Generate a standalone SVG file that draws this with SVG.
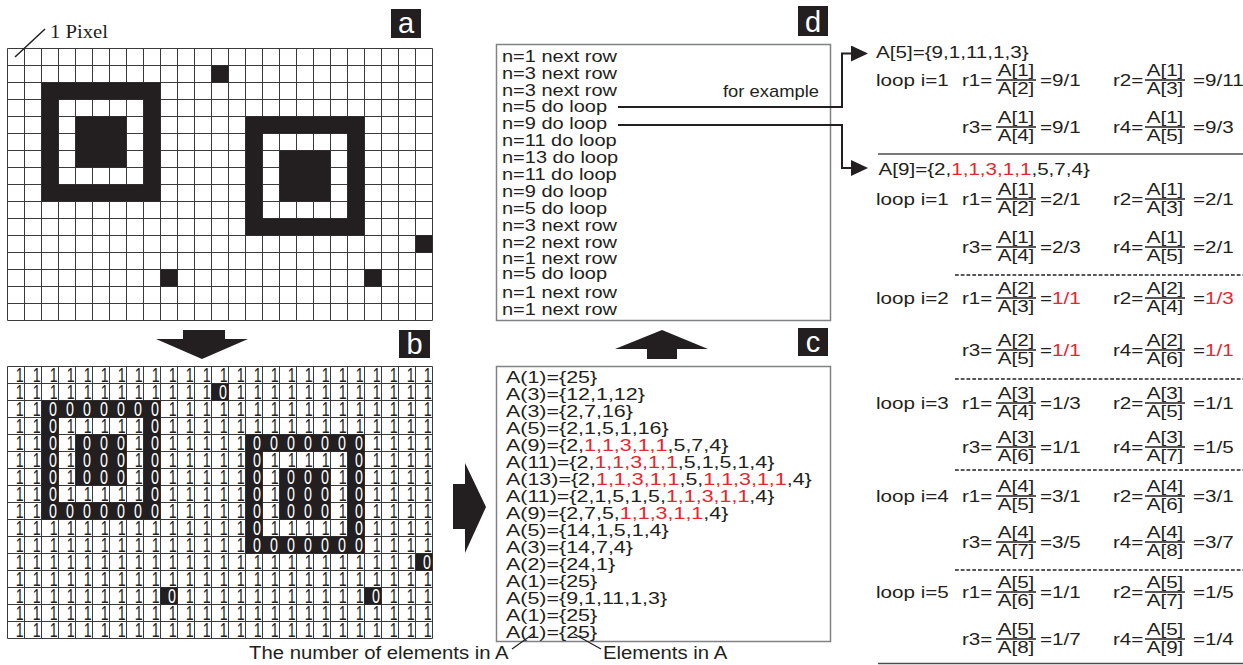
<svg xmlns="http://www.w3.org/2000/svg" width="1243" height="665" viewBox="0 0 1243 665">
<style>
.t{font-family:"Liberation Sans",Arial,sans-serif;fill:#231f20}
.r{fill:#e6262d}
.m{text-anchor:middle}
.grid{fill:none;stroke:#3a3a3a;stroke-width:1}
.blk{fill:#231f20;fill-rule:evenodd}
.box{fill:none;stroke:#808285;stroke-width:1.5}
.lbl rect{fill:#231f20}
.lbl text{font-family:"Liberation Sans",Arial,sans-serif;font-size:29px;fill:#fff;text-anchor:middle}
.one{font-family:"Liberation Sans",Arial,sans-serif;font-size:21px;fill:#231f20;text-anchor:middle}
.zero{font-family:"Liberation Sans",Arial,sans-serif;font-size:21px;fill:#fff;text-anchor:middle}
.con{fill:none;stroke:#231f20;stroke-width:2}
.thin{fill:none;stroke:#231f20;stroke-width:1.2}
.bar{fill:none;stroke:#231f20;stroke-width:1.3}
.dash{fill:none;stroke:#231f20;stroke-width:1.3;stroke-dasharray:3 1.6}
.solid{fill:none;stroke:#4d4d4f;stroke-width:1.5}
.arrow{fill:#231f20}
</style>
<defs>
<path id="gr" class="grid" d="M7.5,48.5v272m17-272v272m17-272v272m17-272v272m17-272v272m17-272v272m17-272v272m17-272v272m17-272v272m17-272v272m17-272v272m17-272v272m17-272v272m17-272v272m17-272v272m17-272v272m17-272v272m17-272v272m17-272v272m17-272v272m17-272v272m17-272v272m17-272v272m17-272v272m17-272v272m17-272v272M7.5,48.5h425m-425,17h425m-425,17h425m-425,17h425m-425,17h425m-425,17h425m-425,17h425m-425,17h425m-425,17h425m-425,17h425m-425,17h425m-425,17h425m-425,17h425m-425,17h425m-425,17h425m-425,17h425m-425,17h425"/>
<path id="px" class="blk" d="M41.5,82.5h119v119h-119z M58.5,99.5h85v85h-85z M75.5,116.5h51v51h-51z M245.5,116.5h119v119h-119z M262.5,133.5h85v85h-85z M279.5,150.5h51v51h-51z M211.5,65.5h17v17h-17z M415.5,235.5h17v17h-17z M160.5,269.5h17v17h-17z M364.5,269.5h17v17h-17z"/>
<marker id="ah" markerUnits="userSpaceOnUse" markerWidth="17" markerHeight="16" viewBox="0 0 17 16" refX="0" refY="8" orient="auto"><path d="M0,0L17,8L0,16z" fill="#231f20"/></marker>
</defs>

<g id="panel-a">
<use href="#gr"/>
<use href="#px"/>
<line x1="15" y1="57" x2="45" y2="29" stroke="#231f20" stroke-width="1.5"/>
<text transform="translate(50,38) scale(1.15,1)" font-family="Liberation Serif, Times New Roman, serif" font-size="18" fill="#231f20">1 Pixel</text>
<g class="lbl"><rect x="391" y="9" width="30" height="29"/><text x="406" y="33">a</text></g>
</g>

<g id="panel-b">
<use href="#gr" y="318"/>
<use href="#px" y="318"/>
<g transform="scale(0.68,1)">
<text class="one" x="29 54 79 104 129 154 179 204 229 254 279 304 329 354 379 404 429 454 479 504 529 554 579 604 629" y="382.5">1111111111111111111111111</text>
<text class="one" x="29 54 79 104 129 154 179 204 229 254 279 304 354 379 404 429 454 479 504 529 554 579 604 629" y="399.5">111111111111111111111111</text>
<text class="one" x="29 54 254 279 304 329 354 379 404 429 454 479 504 529 554 579 604 629" y="416.5">111111111111111111</text>
<text class="one" x="29 54 104 129 154 179 204 254 279 304 329 354 379 404 429 454 479 504 529 554 579 604 629" y="433.5">11111111111111111111111</text>
<text class="one" x="29 54 104 204 254 279 304 329 354 554 579 604 629" y="450.5">1111111111111</text>
<text class="one" x="29 54 104 204 254 279 304 329 354 404 429 454 479 504 554 579 604 629" y="467.5">111111111111111111</text>
<text class="one" x="29 54 104 204 254 279 304 329 354 404 504 554 579 604 629" y="484.5">111111111111111</text>
<text class="one" x="29 54 104 129 154 179 204 254 279 304 329 354 404 504 554 579 604 629" y="501.5">111111111111111111</text>
<text class="one" x="29 54 254 279 304 329 354 404 504 554 579 604 629" y="518.5">1111111111111</text>
<text class="one" x="29 54 79 104 129 154 179 204 229 254 279 304 329 354 404 429 454 479 504 554 579 604 629" y="535.5">11111111111111111111111</text>
<text class="one" x="29 54 79 104 129 154 179 204 229 254 279 304 329 354 554 579 604 629" y="552.5">111111111111111111</text>
<text class="one" x="29 54 79 104 129 154 179 204 229 254 279 304 329 354 379 404 429 454 479 504 529 554 579 604" y="569.5">111111111111111111111111</text>
<text class="one" x="29 54 79 104 129 154 179 204 229 254 279 304 329 354 379 404 429 454 479 504 529 554 579 604 629" y="586.5">1111111111111111111111111</text>
<text class="one" x="29 54 79 104 129 154 179 204 229 279 304 329 354 379 404 429 454 479 504 529 579 604 629" y="603.5">11111111111111111111111</text>
<text class="one" x="29 54 79 104 129 154 179 204 229 254 279 304 329 354 379 404 429 454 479 504 529 554 579 604 629" y="620.5">1111111111111111111111111</text>
<text class="one" x="29 54 79 104 129 154 179 204 229 254 279 304 329 354 379 404 429 454 479 504 529 554 579 604 629" y="637.5">1111111111111111111111111</text>
<text class="zero" x="328" y="399.5">0</text>
<text class="zero" x="78 103 128 153 178 203 228" y="416.5">0000000</text>
<text class="zero" x="78 228" y="433.5">00</text>
<text class="zero" x="78 128 153 178 228 378 403 428 453 478 503 528" y="450.5">000000000000</text>
<text class="zero" x="78 128 153 178 228 378 528" y="467.5">0000000</text>
<text class="zero" x="78 128 153 178 228 378 428 453 478 528" y="484.5">0000000000</text>
<text class="zero" x="78 228 378 428 453 478 528" y="501.5">0000000</text>
<text class="zero" x="78 103 128 153 178 203 228 378 428 453 478 528" y="518.5">000000000000</text>
<text class="zero" x="378 528" y="535.5">00</text>
<text class="zero" x="378 403 428 453 478 503 528" y="552.5">0000000</text>
<text class="zero" x="628" y="569.5">0</text>
<text class="zero" x="253 553" y="603.5">00</text>
</g>
<g class="lbl"><rect x="399" y="330" width="31" height="28"/><text x="414.5" y="354">b</text></g>
</g>

<g id="panel-c">
<rect class="box" x="496.5" y="366.5" width="334" height="275"/>
<g class="t" font-size="16.5" transform="translate(506,0) scale(1.3,1)">
<text x="0" y="383">A(1)={25}</text>
<text x="0" y="400">A(3)={12,1,12}</text>
<text x="0" y="417">A(3)={2,7,16}</text>
<text x="0" y="434">A(5)={2,1,5,1,16}</text>
<text x="0" y="451">A(9)={2,<tspan class="r">1,1,3,1,1</tspan>,5,7,4}</text>
<text x="0" y="468">A(11)={2,<tspan class="r">1,1,3,1,1</tspan>,5,1,5,1,4}</text>
<text x="0" y="485">A(13)={2,<tspan class="r">1,1,3,1,1</tspan>,5,<tspan class="r">1,1,3,1,1</tspan>,4}</text>
<text x="0" y="502">A(11)={2,1,5,1,5,<tspan class="r">1,1,3,1,1</tspan>,4}</text>
<text x="0" y="519">A(9)={2,7,5,<tspan class="r">1,1,3,1,1</tspan>,4}</text>
<text x="0" y="536">A(5)={14,1,5,1,4}</text>
<text x="0" y="553">A(3)={14,7,4}</text>
<text x="0" y="570">A(2)={24,1}</text>
<text x="0" y="587">A(1)={25}</text>
<text x="0" y="604">A(5)={9,1,11,1,3}</text>
<text x="0" y="621">A(1)={25}</text>
<text x="0" y="638">A(1)={25}</text>
</g>
<g class="lbl"><rect x="798" y="328" width="30" height="28"/><text x="813" y="352">c</text></g>
</g>

<g id="panel-d">
<rect class="box" x="496.5" y="44.5" width="334" height="276"/>
<g class="t" font-size="16" transform="translate(502,0) scale(1.25,1)">
<text x="0" y="62">n=1 next row</text>
<text x="0" y="79">n=3 next row</text>
<text x="0" y="96">n=3 next row</text>
<text x="0" y="112">n=5 do loop</text>
<text x="0" y="129">n=9 do loop</text>
<text x="0" y="146">n=11 do loop</text>
<text x="0" y="163">n=13 do loop</text>
<text x="0" y="180">n=11 do loop</text>
<text x="0" y="197">n=9 do loop</text>
<text x="0" y="214">n=5 do loop</text>
<text x="0" y="231">n=3 next row</text>
<text x="0" y="248">n=2 next row</text>
<text x="0" y="264">n=1 next row</text>
<text x="0" y="279">n=5 do loop</text>
<text x="0" y="298">n=1 next row</text>
<text x="0" y="315">n=1 next row</text>
</g>
<g class="lbl"><rect x="798" y="6" width="30" height="30"/><text x="813" y="32">d</text></g>
</g>

<g id="connectors">
<polygon class="arrow" points="183,330 225,330 225,339 248,339 202,359 156,339 183,339"/>
<polygon class="arrow" points="453,484 465,484 465,463 486,507 465,553 465,529 453,529"/>
<polygon class="arrow" points="662,330 708,349 677,349 677,359 647,359 647,349 615,349"/>
<polyline class="con" points="618,107 842,107 842,53.5 851,53.5" marker-end="url(#ah)"/>
<polyline class="con" points="618,125 842,125 842,168 851,168" marker-end="url(#ah)"/>
<line class="thin" x1="512" y1="649" x2="533" y2="634"/>
<line class="thin" x1="601" y1="649" x2="574" y2="634"/>
<text class="t" font-size="16" transform="translate(723,97) scale(1.15,1)">for example</text>
</g>

<g id="bottom-labels" class="t" font-size="19">
<text transform="translate(249,659) scale(1.07,1)">The number of elements in A</text>
<text transform="translate(603,659) scale(1.07,1)">Elements in A</text>
</g>

<g id="panel-ratios" class="t" font-size="16.5" transform="translate(876,0) scale(1.25,1)">
<path class="solid" d="M1.6,154H293.6M1.6,663.5H293.6"/>
<path class="dash" d="M63.2,275H293.6M63.2,379H293.6M63.2,470H293.6M63.2,570H293.6"/>
<path class="bar" d="M96,80h32M215.2,80h32M96,127h32M215.2,127h32M96,199h32M215.2,199h32M96,247h32M215.2,247h32M96,298h32M215.2,298h32M96,350h32M215.2,350h32M96,403h32M215.2,403h32M96,447h32M215.2,447h32M96,496h32M215.2,496h32M96,542h32M215.2,542h32M96,592h32M215.2,592h32M96,639h32M215.2,639h32"/>
<g id="ratios-a5">
<text x="0" y="58">A[5]={9,1,11,1,3}</text>
<text x="0" y="86">loop i=1</text>
<text x="68.8" y="86">r1=</text><text class="m" x="112" y="76">A[1]</text><text class="m" x="112" y="94">A[2]</text><text x="131.2" y="86">=9/1</text>
<text x="189.6" y="86">r2=</text><text class="m" x="231.2" y="76">A[1]</text><text class="m" x="231.2" y="94">A[3]</text><text x="253.6" y="86">=9/11</text>
<text x="68.8" y="133">r3=</text><text class="m" x="112" y="123">A[1]</text><text class="m" x="112" y="141">A[4]</text><text x="131.2" y="133">=9/1</text>
<text x="189.6" y="133">r4=</text><text class="m" x="231.2" y="123">A[1]</text><text class="m" x="231.2" y="141">A[5]</text><text x="253.6" y="133">=9/3</text>
</g>
<g id="ratios-a9-i1">
<text x="2" y="175">A[9]={2,<tspan class="r">1,1,3,1,1</tspan>,5,7,4}</text>
<text x="0" y="205">loop i=1</text>
<text x="68.8" y="205">r1=</text><text class="m" x="112" y="195">A[1]</text><text class="m" x="112" y="213">A[2]</text><text x="131.2" y="205">=2/1</text>
<text x="189.6" y="205">r2=</text><text class="m" x="231.2" y="195">A[1]</text><text class="m" x="231.2" y="213">A[3]</text><text x="253.6" y="205">=2/1</text>
<text x="68.8" y="253">r3=</text><text class="m" x="112" y="243">A[1]</text><text class="m" x="112" y="261">A[4]</text><text x="131.2" y="253">=2/3</text>
<text x="189.6" y="253">r4=</text><text class="m" x="231.2" y="243">A[1]</text><text class="m" x="231.2" y="261">A[5]</text><text x="253.6" y="253">=2/1</text>
</g>
<g id="ratios-a9-i2">
<text x="0" y="304">loop i=2</text>
<text x="68.8" y="304">r1=</text><text class="m" x="112" y="294">A[2]</text><text class="m" x="112" y="312">A[3]</text><text x="131.2" y="304">=<tspan class="r">1/1</tspan></text>
<text x="189.6" y="304">r2=</text><text class="m" x="231.2" y="294">A[2]</text><text class="m" x="231.2" y="312">A[4]</text><text x="253.6" y="304">=<tspan class="r">1/3</tspan></text>
<text x="68.8" y="356">r3=</text><text class="m" x="112" y="346">A[2]</text><text class="m" x="112" y="364">A[5]</text><text x="131.2" y="356">=<tspan class="r">1/1</tspan></text>
<text x="189.6" y="356">r4=</text><text class="m" x="231.2" y="346">A[2]</text><text class="m" x="231.2" y="364">A[6]</text><text x="253.6" y="356">=<tspan class="r">1/1</tspan></text>
</g>
<g id="ratios-a9-i3">
<text x="0" y="409">loop i=3</text>
<text x="68.8" y="409">r1=</text><text class="m" x="112" y="399">A[3]</text><text class="m" x="112" y="417">A[4]</text><text x="131.2" y="409">=1/3</text>
<text x="189.6" y="409">r2=</text><text class="m" x="231.2" y="399">A[3]</text><text class="m" x="231.2" y="417">A[5]</text><text x="253.6" y="409">=1/1</text>
<text x="68.8" y="453">r3=</text><text class="m" x="112" y="443">A[3]</text><text class="m" x="112" y="461">A[6]</text><text x="131.2" y="453">=1/1</text>
<text x="189.6" y="453">r4=</text><text class="m" x="231.2" y="443">A[3]</text><text class="m" x="231.2" y="461">A[7]</text><text x="253.6" y="453">=1/5</text>
</g>
<g id="ratios-a9-i4">
<text x="0" y="502">loop i=4</text>
<text x="68.8" y="502">r1=</text><text class="m" x="112" y="492">A[4]</text><text class="m" x="112" y="510">A[5]</text><text x="131.2" y="502">=3/1</text>
<text x="189.6" y="502">r2=</text><text class="m" x="231.2" y="492">A[4]</text><text class="m" x="231.2" y="510">A[6]</text><text x="253.6" y="502">=3/1</text>
<text x="68.8" y="548">r3=</text><text class="m" x="112" y="538">A[4]</text><text class="m" x="112" y="556">A[7]</text><text x="131.2" y="548">=3/5</text>
<text x="189.6" y="548">r4=</text><text class="m" x="231.2" y="538">A[4]</text><text class="m" x="231.2" y="556">A[8]</text><text x="253.6" y="548">=3/7</text>
</g>
<g id="ratios-a9-i5">
<text x="0" y="598">loop i=5</text>
<text x="68.8" y="598">r1=</text><text class="m" x="112" y="588">A[5]</text><text class="m" x="112" y="606">A[6]</text><text x="131.2" y="598">=1/1</text>
<text x="189.6" y="598">r2=</text><text class="m" x="231.2" y="588">A[5]</text><text class="m" x="231.2" y="606">A[7]</text><text x="253.6" y="598">=1/5</text>
<text x="68.8" y="645">r3=</text><text class="m" x="112" y="635">A[5]</text><text class="m" x="112" y="653">A[8]</text><text x="131.2" y="645">=1/7</text>
<text x="189.6" y="645">r4=</text><text class="m" x="231.2" y="635">A[5]</text><text class="m" x="231.2" y="653">A[9]</text><text x="253.6" y="645">=1/4</text>
</g>
</g>
</svg>
